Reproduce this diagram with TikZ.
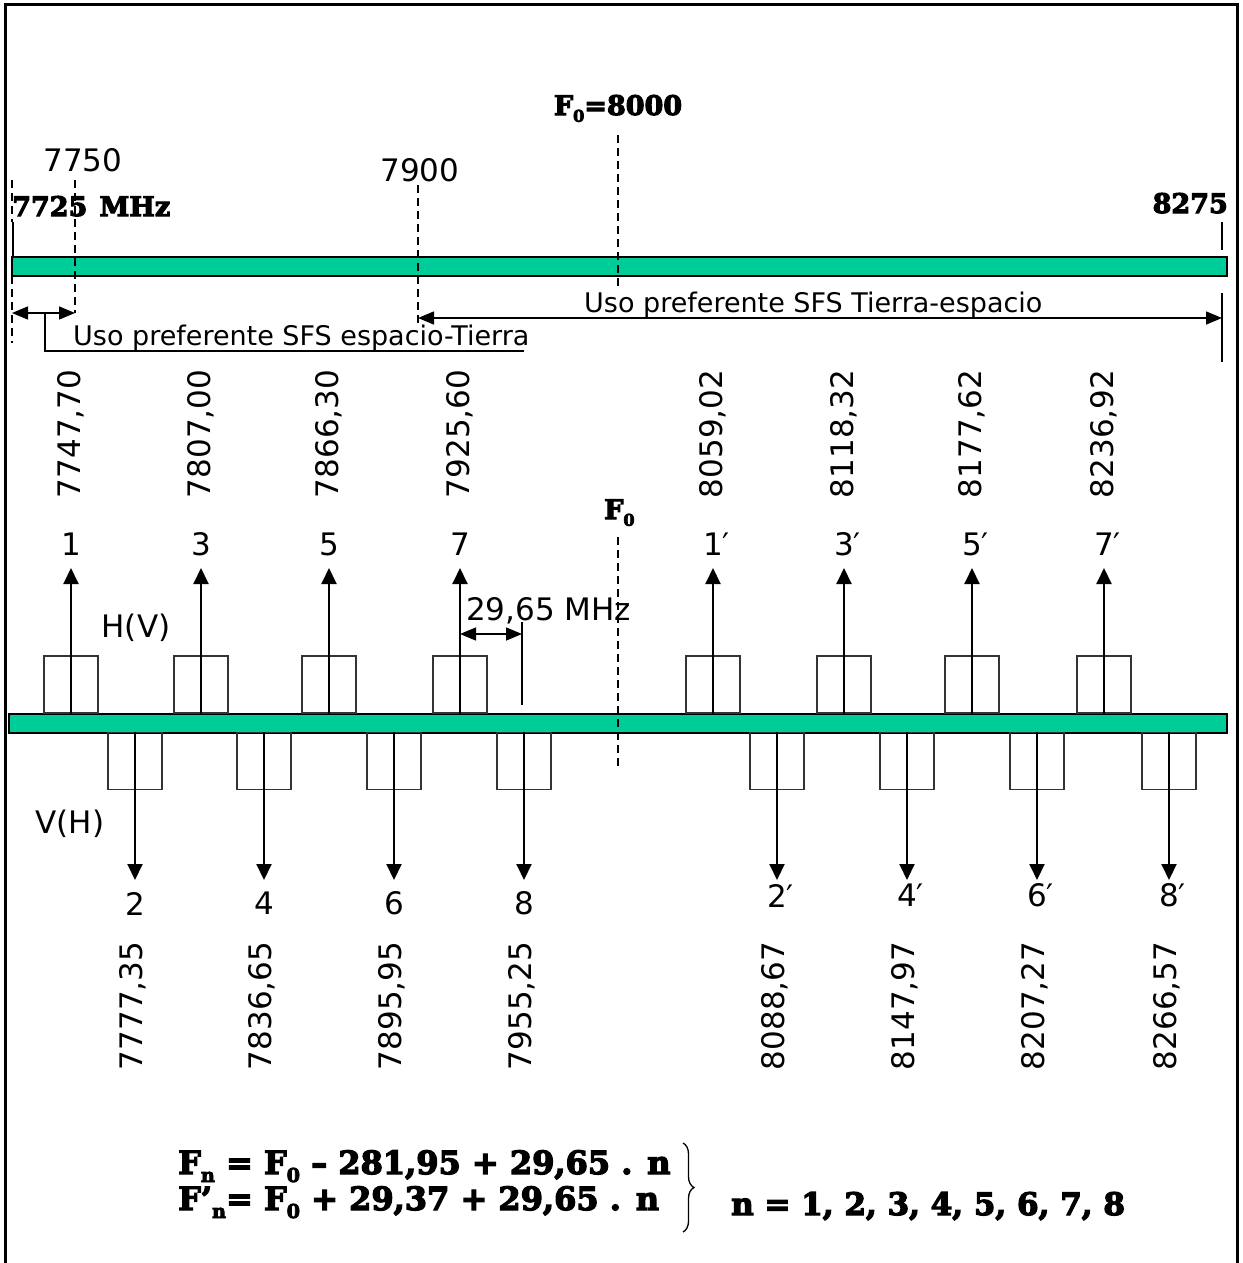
\documentclass[tikz,border=0pt]{standalone}
\usepackage{fontspec}
\usetikzlibrary{arrows.meta,decorations.pathreplacing}
\newfontfamily\sansf{DejaVu Sans}
\newfontfamily\heavyf{DejaVu Serif}[BoldFeatures={FakeBold=4}]
\newcommand\lowsub[1]{\raisebox{-0.25em}{\scalebox{0.6}{#1}}}
\definecolor{bandgreen}{RGB}{0,204,153}
\begin{document}
\begin{tikzpicture}[x=1pt,y=-1pt,
  every node/.style={inner sep=0pt},
  lbl/.style={font=\sansf\fontsize{31}{37}\selectfont},
  vlbl/.style={rotate=90,font=\sansf\fontsize{31}{37}\selectfont},
  usotext/.style={font=\sansf\fontsize{27}{32}\selectfont},
  heavy/.style={font=\heavyf\bfseries\fontsize{27}{32}\selectfont},
  formula/.style={font=\heavyf\bfseries\fontsize{32}{38}\selectfont},
  bar/.style={draw=black,line width=1.5pt,fill=bandgreen,minimum height=19pt},
  chan/.style={draw=black!80,line width=1.3pt,minimum width=54pt,minimum height=57pt},
  carrier/.style={line width=2pt,-{Triangle[length=16pt,width=15pt]}},
  dim/.style={line width=1.5pt,{Triangle[length=16pt,width=13pt]}-{Triangle[length=16pt,width=13pt]}},
  guide/.style={line width=1.3pt,dash pattern=on 8pt off 5pt},
  plain/.style={line width=1.3pt}]
\useasboundingbox (0,0) rectangle (1242,1263);
% frame
\draw[line width=3pt] (5,1263) -- (5,5) -- (1237,5) -- (1237,1263);

% ---------- upper band ----------
\node[bar,minimum width=1215pt] (topbar) at (619.5,266.5) {};
\node[heavy,anchor=base] (f0top) at (618,115) {F\lowsub{0}=8000};
\node[lbl] (t7750) at (83,160.5) {7750};
\node[lbl] (t7900) at (420,170.5) {7900};
\node[heavy,anchor=base west] (t7725) at (12,216) {7725\hspace{0.45em}MHz};
\node[heavy,anchor=base east] (t8275) at (1228,213) {8275};

\coordinate (a1) at (12,180); \coordinate (a2) at (12,222);
\coordinate (a3) at (13,222); \coordinate (a4) at (13,257);
\coordinate (a5) at (12,276); \coordinate (a6) at (12,343);
\draw[guide] (a1) -- (a2);
\draw[plain] (a3) -- (a4);
\draw[guide] (a5) -- (a6);
\coordinate (b1) at (75,180); \coordinate (b2) at (75,313);
\draw[guide] (b1) -- (b2);
\coordinate (c1) at (418,185); \coordinate (c2) at (418,327);
\draw[guide] (c1) -- (c2);
\coordinate (d1) at (618,135); \coordinate (d2) at (618,287);
\draw[guide] (d1) -- (d2);
\coordinate (e1) at (1222,222); \coordinate (e2) at (1222,250);
\coordinate (e3) at (1222,293); \coordinate (e4) at (1222,362);
\draw[plain] (e1) -- (e2);
\draw[plain] (e3) -- (e4);

\coordinate (s1) at (12,313); \coordinate (s2) at (75,313);
\draw[dim] (s1) -- (s2);
\coordinate (s3) at (418,318); \coordinate (s4) at (1222,318);
\draw[dim] (s3) -- (s4);
\coordinate (k1) at (45,313); \coordinate (k2) at (45,351); \coordinate (k3) at (524,351);
\draw[plain] (k1) -- (k2) -- (k3);
\node[usotext,anchor=base west] (usoTE) at (584,312) {Uso preferente SFS Tierra-espacio};
\node[usotext,anchor=base west] (usoET) at (73,345) {Uso preferente SFS espacio-Tierra};

% ---------- lower band ----------
\node[bar,minimum width=1218pt] (lowbar) at (618,723.5) {};

\foreach \n/\x/\l/\v in {u1/71/1/{7747,70},u3/201/3/{7807,00},u5/329/5/{7866,30},u7/460/7/{7925,60},
  u1p/713/{1\rlap{′}}/{8059,02},u3p/844/{3\rlap{′}}/{8118,32},u5p/972/{5\rlap{′}}/{8177,62},u7p/1104/{7\rlap{′}}/{8236,92}}{
  \node[chan] (\n) at (\x,684.5) {};
  \coordinate (\n tip) at (\x,568);
  \draw[carrier] (\n.south) -- (\n tip);
  \node[lbl] (\n num) at (\x,544) {\l};
  \node[vlbl] (\n freq) at (\x,434) {\v};
}

\foreach \n/\x/\l/\ly/\v in {d2/135/2/903.5/{7777,35},d4/264/4/903.5/{7836,65},d6/394/6/903.5/{7895,95},d8/524/8/903.5/{7955,25},
  d2p/777/{2\rlap{′}}/895.5/{8088,67},d4p/907/{4\rlap{′}}/895.5/{8147,97},d6p/1037/{6\rlap{′}}/895.5/{8207,27},d8p/1169/{8\rlap{′}}/895.5/{8266,57}}{
  \node[chan] (\n) at (\x,761) {};
  \coordinate (\n tip) at (\x,880);
  \draw[carrier] (\n.north) -- (\n tip);
  \node[lbl] (\n num) at (\x,\ly) {\l};
  \node[vlbl] (\n freq) at (\x-2,1006) {\v};
}

\node[lbl] (hv) at (136,627.5) {H(V)};
\node[lbl] (vh) at (70,824) {V(H)};
\node[lbl,anchor=base west] (spacing) at (466,620) {29,65 MHz};
\coordinate (w1) at (460,634); \coordinate (w2) at (522,634);
\draw[dim] (w1) -- (w2);
\coordinate (v1) at (522,622); \coordinate (v2) at (522,705);
\draw[plain] (v1) -- (v2);
\node[heavy,anchor=base west] (f0low) at (604,519) {F\lowsub{0}};
\coordinate (f1) at (618,537); \coordinate (f2) at (618,767);
\draw[guide] (f1) -- (f2);

% ---------- formulas ----------
\node[formula,anchor=base west] (eq1) at (178,1174) {F\lowsub{n} = F\lowsub{0} – 281,95 + 29,65 . n};
\node[formula,anchor=base west] (eq2) at (178,1210) {F’\lowsub{n}= F\lowsub{0} + 29,37 + 29,65 . n};
\coordinate (br1) at (683,1143); \coordinate (br2) at (683,1232);
\draw[plain,decorate,decoration={brace,amplitude=11pt}] (br1) -- (br2);
\node[formula,font=\heavyf\bfseries\fontsize{31}{37}\selectfont,anchor=base west] (nset) at (731,1215) {n = 1, 2, 3, 4, 5, 6, 7, 8};
\end{tikzpicture}
\end{document}
